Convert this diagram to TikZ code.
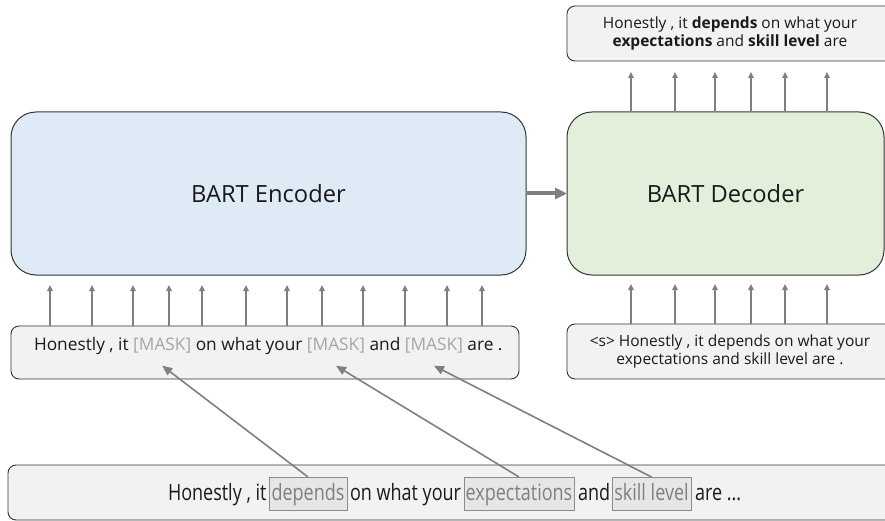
\documentclass[tikz,border=0pt]{standalone}
\usepackage{fontspec}
\setmainfont{Open Sans}
\newfontfamily\condfam[FakeStretch=0.8]{Open Sans}
\usetikzlibrary{arrows.meta}
\definecolor{encfill}{HTML}{DEEAF6}
\definecolor{decfill}{HTML}{E2EFDA}
\definecolor{boxfill}{HTML}{F2F2F2}
\definecolor{boxline}{HTML}{333333}
\definecolor{arrgray}{HTML}{7F7F7F}
\definecolor{maskgray}{HTML}{A6A6A6}
\definecolor{wordfill}{HTML}{E6E6E6}
\definecolor{wordline}{HTML}{8C8C8C}
\definecolor{txt}{HTML}{1A1A1A}
\newcommand\fbig{\fontsize{23.7}{28}\selectfont}
\newcommand\fmidd{\fontsize{17.3}{21}\selectfont}
\newcommand\fsmal{\fontsize{15.5}{17.2}\selectfont}
\newcommand\fcondd{\condfam\fontsize{22.5}{26}\selectfont}
\begin{document}
\begin{tikzpicture}[x=1pt,y=-1pt,
  every node/.style={outer sep=0pt, text=txt},
  bigbox/.style={draw=boxline, line width=1pt, rounded corners=25pt, minimum height=163pt, inner sep=0pt, font=\fbig},
  inbox/.style={draw=boxline, fill=boxfill, line width=0.9pt, rounded corners=8pt, inner sep=0pt},
  chainw/.style={anchor=base west, inner sep=0pt, font=\fmidd},
  maskw/.style={chainw, text=maskgray},
  condw/.style={anchor=base west, inner sep=0pt, font=\fcondd},
  wordbox/.style={anchor=base, draw=wordline, fill=wordfill, line width=0.8pt, inner sep=0pt, text height=23pt, text depth=10pt, font=\fcondd, text=arrgray},
  uparr/.style={draw=arrgray, line width=1.6pt, -{Triangle[length=6pt,width=5.5pt]}},
  diagarr/.style={draw=arrgray, line width=1.6pt, -{Triangle[length=10pt,width=8.5pt]}},
  fatarr/.style={draw=arrgray, line width=4pt, -{Triangle[length=12pt,width=11pt]}}
]
\useasboundingbox (0,0) rectangle (885,521);

% main blocks
\node[bigbox, fill=encfill, minimum width=515pt] (enc) at (268.5,193.5) {BART Encoder};
\node[bigbox, fill=decfill, minimum width=317pt] (dec) at (725.5,193.5) {BART Decoder};
\draw[fatarr] (enc.east) -- (dec.west);

% decoder output and input boxes
\node[inbox, minimum width=326pt, minimum height=55pt, align=center, font=\fsmal] (out) at (730,33.5)
  {Honestly , it \textbf{depends} on what your\\ \textbf{expectations} and \textbf{skill level} are};
\node[inbox, minimum width=326pt, minimum height=55pt, align=center, font=\fsmal] (decin) at (730,351.5)
  {<s> Honestly , it depends on what your\\ expectations and skill level are .};

% encoder input
\node[inbox, minimum width=508pt, minimum height=53pt] (encin) at (265,352.5) {};
\node[chainw] (t1) at (34,350) {Honestly , it};
\node[maskw] (m1) at ([xshift=4.5pt]t1.base east) {[MASK]};
\node[chainw] (t2) at ([xshift=4.5pt]m1.base east) {on what your};
\node[maskw] (m2) at ([xshift=4.5pt]t2.base east) {[MASK]};
\node[chainw] (t3) at ([xshift=4.5pt]m2.base east) {and};
\node[maskw] (m3) at ([xshift=4.5pt]t3.base east) {[MASK]};
\node[chainw] (t4) at ([xshift=4.5pt]m3.base east) {are .};

% original sentence
\node[inbox, minimum width=888pt, minimum height=55pt] (orig) at (452,492.5) {};
\node[condw] (o1) at (168,500) {Honestly , it};
\node[wordbox, minimum width=78pt] (wd) at (308,500) {depends};
\node[condw] (o2) at (350,500) {on what your};
\node[wordbox, minimum width=110pt] (we) at (519,500) {expectations};
\node[condw] (o3) at (578,500) {and};
\node[wordbox, minimum width=79pt] (ws) at (651.5,500) {skill level};
\node[condw] (o4) at (695,500) {are ...};

% arrows
\foreach \dx in {39,81,122,158,191,235,276,311,352,394,436,471}
  \draw[uparr] ([xshift=\dx pt]encin.north west) -- ++(0,-41);
\foreach \dx in {64,108,148,184,218,260}{
  \draw[uparr] ([xshift=\dx pt]decin.north west) -- ++(0,-40);
  \draw[uparr] ([xshift=\dx pt]dec.north west) -- ++(0,-40);
}
\draw[diagarr] (wd.north) -- ([yshift=-13pt]m1.south);
\draw[diagarr] (we.north) -- ([yshift=-13pt]m2.south);
\draw[diagarr] (ws.north) -- ([yshift=-13pt]m3.south);
\end{tikzpicture}
\end{document}
